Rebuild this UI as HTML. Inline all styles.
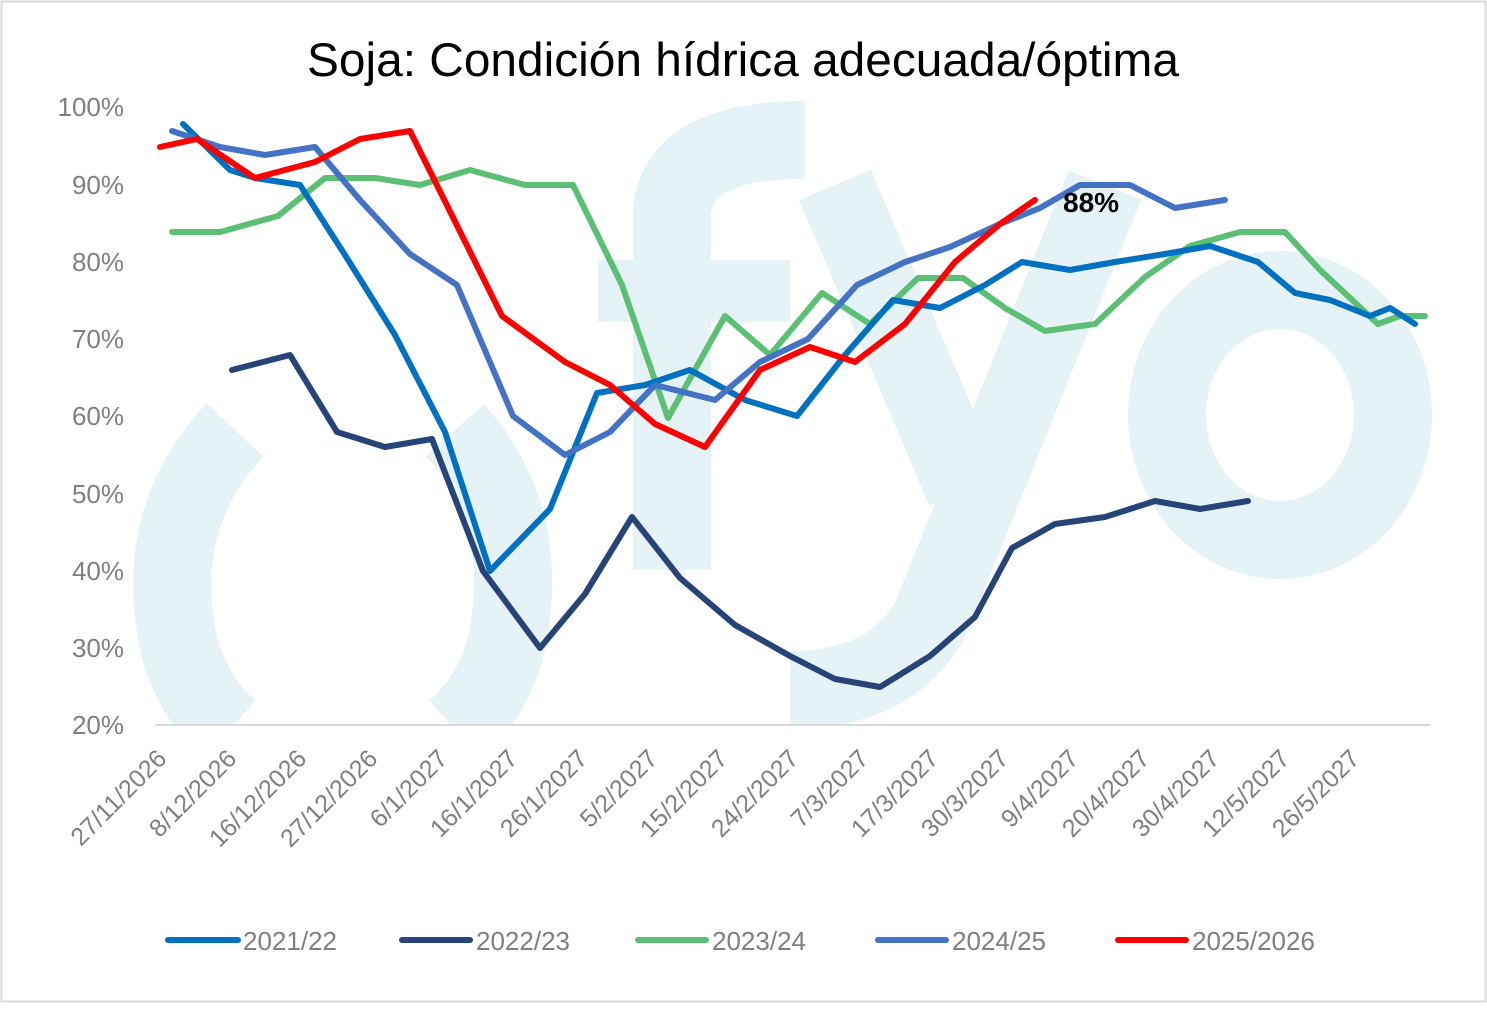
<!DOCTYPE html>
<html><head><meta charset="utf-8"><style>
body{margin:0;background:#fff}
svg text{font-family:"Liberation Sans",sans-serif}
</style></head><body>
<svg width="1487" height="1004" viewBox="0 0 1487 1004" xmlns="http://www.w3.org/2000/svg">
<defs><clipPath id="c"><rect x="0" y="0" width="1487" height="725"/></clipPath></defs>
<rect x="1.5" y="1.5" width="1484" height="1000" fill="#fff" stroke="#d9d9d9" stroke-width="2"/>
<g fill="none" stroke="#E5F2F6" stroke-width="78" clip-path="url(#c)">
<path d="M235,430 Q150,520 180,650 Q195,700 230,730"/>
<path d="M455,430 Q535,520 505,650 Q490,700 455,730"/>
<path d="M672,570 L672,210 Q680,140 805,140"/>
<path d="M598,291 L790,291" stroke-width="62"/>
<path d="M835,185 L965,490"/>
<path d="M1105,185 L930,620 Q890,690 790,690"/>
<ellipse cx="1280" cy="415" rx="113" ry="125" stroke-width="78"/>
</g>
<text x="743" y="76" text-anchor="middle" font-size="47" fill="#000" textLength="872" lengthAdjust="spacingAndGlyphs">Soja: Condición hídrica adecuada/óptima</text>
<line x1="155" y1="725" x2="1430" y2="725" stroke="#d9d9d9" stroke-width="2"/>
<g font-size="26" fill="#7f7f7f" text-anchor="end">
<text x="124" y="116">100%</text><text x="124" y="194">90%</text><text x="124" y="271">80%</text><text x="124" y="348">70%</text><text x="124" y="425">60%</text><text x="124" y="503">50%</text><text x="124" y="580">40%</text><text x="124" y="657">30%</text><text x="124" y="734">20%</text>
</g>
<g font-size="25" fill="#7f7f7f" text-anchor="end">
<text transform="translate(168,760) rotate(-45)">27/11/2026</text>
<text transform="translate(238,760) rotate(-45)">8/12/2026</text>
<text transform="translate(308,760) rotate(-45)">16/12/2026</text>
<text transform="translate(379,760) rotate(-45)">27/12/2026</text>
<text transform="translate(449,760) rotate(-45)">6/1/2027</text>
<text transform="translate(519,760) rotate(-45)">16/1/2027</text>
<text transform="translate(589,760) rotate(-45)">26/1/2027</text>
<text transform="translate(659,760) rotate(-45)">5/2/2027</text>
<text transform="translate(729,760) rotate(-45)">15/2/2027</text>
<text transform="translate(800,760) rotate(-45)">24/2/2027</text>
<text transform="translate(870,760) rotate(-45)">7/3/2027</text>
<text transform="translate(940,760) rotate(-45)">17/3/2027</text>
<text transform="translate(1010,760) rotate(-45)">30/3/2027</text>
<text transform="translate(1080,760) rotate(-45)">9/4/2027</text>
<text transform="translate(1151,760) rotate(-45)">20/4/2027</text>
<text transform="translate(1221,760) rotate(-45)">30/4/2027</text>
<text transform="translate(1291,760) rotate(-45)">12/5/2027</text>
<text transform="translate(1361,760) rotate(-45)">26/5/2027</text>
</g>
<g fill="none" stroke-width="6" stroke-linejoin="round" stroke-linecap="round">
<polyline stroke="#264478" points="232,370 290,355 337,432 385,447 432,439 483,571 540,648 585,594 632,517 680,578 735,625 790,656 835,679 880,687 930,656 975,617 1012,548 1055,524 1105,517 1155,501 1200,509 1248,501"/>
<polyline stroke="#5BBF74" points="172,232 220,232 278,216 325,178 375,178 420,185 470,170 525,185 573,185 622,285 668,418 725,316 770,355 822,293 870,324 918,278 963,278 1005,308 1045,331 1095,324 1145,277 1190,246 1240,232 1285,232 1320,270 1378,324 1400,316 1425,316"/>
<polyline stroke="#0070C0" points="183,124 230,170 255,178 300,185 345,255 395,335 445,432 490,571 550,509 597,393 645,385 690,370 745,400 797,416 845,355 893,300 940,308 985,285 1022,262 1070,270 1115,262 1165,254 1210,246 1258,262 1295,293 1330,300 1370,316 1390,308 1415,324"/>
<polyline stroke="#4472C4" points="172,131 220,147 265,155 315,147 360,200 410,254 457,285 513,416 565,455 610,432 655,385 715,400 760,362 808,339 857,285 905,262 950,247 1000,224 1040,208 1080,185 1130,185 1175,208 1225,200"/>
<polyline stroke="#FF0000" points="160,147 197,139 255,178 315,162 360,139 410,131 502,316 565,362 610,385 655,424 705,447 760,370 810,347 855,362 905,324 955,262 1000,224 1035,200"/>
</g>
<text x="1063" y="212" font-size="28" font-weight="bold" fill="#000">88%</text>
<g stroke-width="6" stroke-linecap="round">
<line x1="168" y1="940" x2="238" y2="940" stroke="#0070C0"/>
<line x1="402" y1="940" x2="470" y2="940" stroke="#264478"/>
<line x1="638" y1="940" x2="706" y2="940" stroke="#5BBF74"/>
<line x1="878" y1="940" x2="946" y2="940" stroke="#4472C4"/>
<line x1="1118" y1="940" x2="1186" y2="940" stroke="#FF0000"/>
</g>
<g font-size="26" fill="#7f7f7f">
<text x="243" y="950">2021/22</text><text x="476" y="950">2022/23</text><text x="712" y="950">2023/24</text><text x="952" y="950">2024/25</text><text x="1192" y="950">2025/2026</text>
</g>
</svg>
</body></html>
